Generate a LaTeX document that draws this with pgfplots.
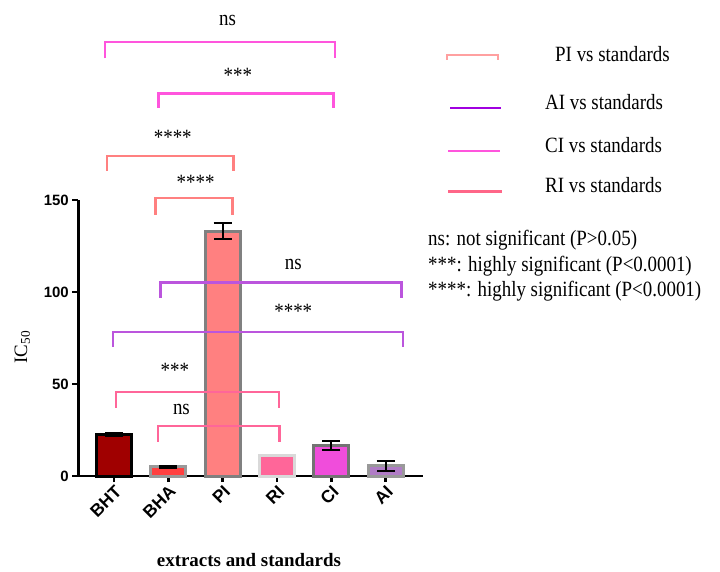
\documentclass[border=0pt]{standalone}
\usepackage{fontspec}
\setmainfont{Liberation Serif}
\newfontfamily\arial{Liberation Sans}
\usepackage{pgfplots}
\pgfplotsset{compat=1.18}
\definecolor{cBHT}{HTML}{A00000}
\definecolor{cBHA}{HTML}{FF4040}
\definecolor{cPI}{HTML}{FF8080}
\definecolor{cRI}{HTML}{FF6699}
\definecolor{cCI}{HTML}{F04DDB}
\definecolor{cAI}{HTML}{B07CC6}
\definecolor{bMag}{HTML}{FF55DD}
\definecolor{bSal}{HTML}{FF8080}
\definecolor{bPur}{HTML}{BB55DD}
\definecolor{bPink}{HTML}{FF6699}
\newcommand{\tf}{\fontsize{19}{25}\selectfont}
\tikzset{tall/.style={font=\tf, yscale=1.15, transform shape}}
\begin{document}
\begin{tikzpicture}
\useasboundingbox (-78.3bp,-96bp) rectangle (641.7bp,476bp);
\begin{axis}[
  at={(0,0)}, anchor=south west,
  scale only axis, width=344.7bp, height=276bp,
  xmin=-0.66, xmax=5.69, ymin=0, ymax=150,
  axis lines*=left,
  axis line style={line width=2.5bp, black},
  xtick={0,1,2,3,4,5},
  xticklabels={BHT,BHA,PI,RI,CI,AI},
  ytick={0,50,100,150},
  tick style={line width=2.5bp, black},
  tick align=outside, major tick length=6bp,
  /pgf/number format/assume math mode=true,
  yticklabel style={font=\arial\bfseries\fontsize{15}{15}\selectfont},
  xticklabel style={font=\arial\bfseries\fontsize{17.5}{17.5}\selectfont, rotate=45, anchor=north east, inner sep=1.5bp},
  clip=false,
  ylabel={IC\textsubscript{50}},
  ylabel style={at={(axis description cs:-0.1625,0.467)}, anchor=center, font=\tf},
  xlabel={\textbf{extracts and standards}},
  xlabel style={at={(axis description cs:0.495,-0.304)}, anchor=center, font=\tf},
  every axis plot/.append style={bar width=35bp, bar shift=0pt},
  error bars/error bar style={black, line width=2bp},
  error bars/error mark options={black, rotate=90, mark size=9bp, line width=2bp},
]
% bars
\addplot[ybar, fill=cBHT, draw=black, line width=3bp,
  error bars/.cd, y dir=both, y explicit] coordinates {(0,22.5) +- (0,1)};
\addplot[ybar, fill=cBHA, draw=black!40, line width=3bp,
  error bars/.cd, y dir=both, y explicit] coordinates {(1,5) +- (0,0.7)};
\addplot[ybar, fill=cPI, draw=black!50, line width=3bp,
  error bars/.cd, y dir=both, y explicit] coordinates {(2,133) +- (0,4.3)};
\addplot[ybar, fill=cRI, draw=black!15, line width=3bp] coordinates {(3,11)};
\addplot[ybar, fill=cCI, draw=black!55, line width=3bp,
  error bars/.cd, y dir=both, y explicit] coordinates {(4,16.5) +- (0,2.5)};
\addplot[ybar, fill=cAI, draw=black!40, line width=3bp,
  error bars/.cd, y dir=both, y explicit] coordinates {(5,5.6) +- (0,2.7)};
% brackets
\addplot[bMag, line width=2bp, sharp plot] coordinates {(-0.16,227) (-0.16,236) (4.06,236) (4.06,227)};
\addplot[bMag, line width=3bp, sharp plot] coordinates {(0.82,200) (0.82,208) (4.05,208) (4.05,200)};
\addplot[bSal, line width=2.5bp, sharp plot] coordinates {(-0.13,166) (-0.13,174) (2.2,174) (2.2,166)};
\addplot[bSal, line width=2.5bp, sharp plot] coordinates {(0.76,142) (0.76,151) (2.18,151) (2.18,142)};
\addplot[bPur, line width=3bp, sharp plot] coordinates {(0.86,97) (0.86,105) (5.3,105) (5.3,97)};
\addplot[bPur, line width=2bp, sharp plot] coordinates {(-0.02,70.3) (-0.02,78.4) (5.33,78.4) (5.33,70.3)};
\addplot[bPink, line width=2bp, sharp plot] coordinates {(0.03,37) (0.03,45.8) (3.04,45.8) (3.04,37)};
\addplot[bPink, line width=2.5bp, sharp plot] coordinates {(0.81,18.6) (0.81,27.3) (3.05,27.3) (3.05,18.6)};
% bracket labels
\node[tall] at (axis cs:2.09,247.8) {ns};
\node[tall] at (axis cs:2.28,218) {***};
\node[tall] at (axis cs:1.08,184) {****};
\node[tall] at (axis cs:1.5,159.8) {****};
\node[tall] at (axis cs:3.3,114.7) {ns};
\node[tall] at (axis cs:3.3,89.3) {****};
\node[tall] at (axis cs:1.12,57.2) {***};
\node[tall] at (axis cs:1.24,35.9) {ns};
\end{axis}
% legend
\draw[color={rgb,255:red,255;green,160;blue,160}, line width=2.5bp] (368.7bp,416bp) -- (368.7bp,421bp) -- (419.7bp,421bp) -- (419.7bp,416bp);
\node[tall, anchor=west, inner sep=0pt] at (476.7bp,422bp) {PI vs standards};
\draw[color={rgb,255:red,160;green,0;blue,224}, line width=2bp] (371.7bp,368bp) -- (422.7bp,368bp);
\node[tall, anchor=west, inner sep=0pt] at (466.7bp,374.3bp) {AI vs standards};
\draw[color=bMag, line width=1.5bp] (369.7bp,325bp) -- (421.7bp,325bp);
\node[tall, anchor=west, inner sep=0pt] at (466.7bp,331bp) {CI vs standards};
\draw[color={rgb,255:red,255;green,102;blue,136}, line width=3bp] (369.7bp,284bp) -- (423.7bp,284bp);
\node[tall, anchor=west, inner sep=0pt] at (466.7bp,291bp) {RI vs standards};
% notes
\node[tall, anchor=west, inner sep=0pt] at (349.7bp,236bp) {ns: not significant (P>0.05)};
\node[tall, anchor=west, inner sep=0pt] at (349.7bp,210bp) {***: highly significant (P<0.0001)};
\node[tall, anchor=west, inner sep=0pt] at (349.7bp,185bp) {****: highly significant (P<0.0001)};
\end{tikzpicture}
\end{document}
